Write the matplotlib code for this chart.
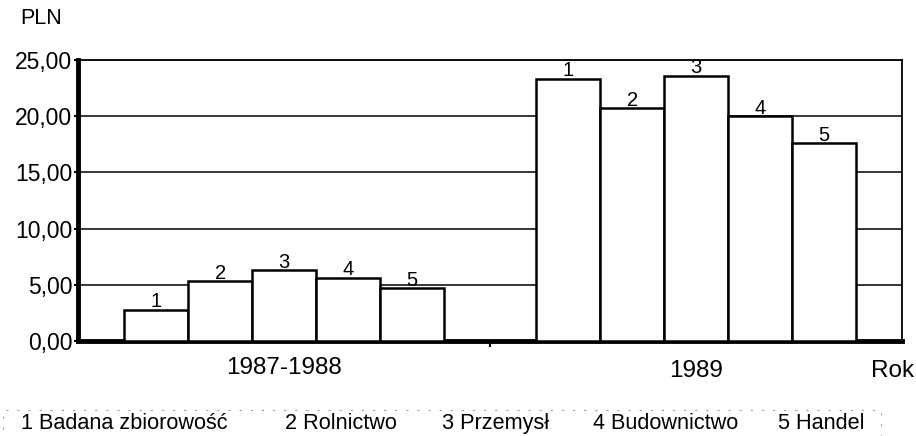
import matplotlib
matplotlib.use("Agg")
import matplotlib.pyplot as plt
from matplotlib.ticker import FuncFormatter, FixedLocator
from matplotlib.patches import Rectangle
import numpy as np

plt.rcParams['font.family'] = ['Liberation Sans', 'DejaVu Sans']

# data
groups = ["1987-1988", "1989"]
sectors = ["Badana zbiorowość", "Rolnictwo", "Przemysł", "Budownictwo", "Handel"]
vals_8788 = [2.8, 5.3, 6.3, 5.6, 4.7]
vals_89 = [23.3, 20.7, 23.6, 20.0, 17.6]
yticks = [0, 5, 10, 15, 20, 25]

fig = plt.figure(figsize=(9.16, 4.36), dpi=100)
ax = fig.add_axes([0.0852, 0.2179, 0.8996, 0.6445])

w = 0.155
x = np.arange(len(groups))
for i, name in enumerate(sectors):
    vals = [vals_8788[i], vals_89[i]]
    pos = x + (i - 2) * w
    bars = ax.bar(pos, vals, width=w, color="white", edgecolor="black",
                  linewidth=1.8, zorder=3)
    for b in bars:
        ax.annotate(str(i + 1), (b.get_x() + b.get_width() / 2, b.get_height()),
                    xytext=(0, -1), textcoords="offset points",
                    ha="center", va="bottom", fontsize=14.5, zorder=4)

ax.set_xlim(-0.5, 1.5)
ax.set_ylim(0, 25)
ax.yaxis.set_major_locator(FixedLocator(yticks))
ax.yaxis.set_major_formatter(FuncFormatter(lambda v, p: f"{v:.2f}".replace('.', ',')))
ax.tick_params(axis='y', labelsize=16.5, length=3, width=1.5, pad=1)
ax.grid(axis='y', color='black', linewidth=1.1, zorder=1)

# category separators on x axis, labels staggered
ax.set_xticks([0.5])
ax.set_xticklabels([])
ax.tick_params(axis='x', length=4, width=1.5, direction='out')
trans = ax.get_xaxis_transform()
ax.text(x[0], -0.058, groups[0], transform=trans, ha='center', va='top', fontsize=17.5)
ax.text(x[1], -0.068, groups[1], transform=trans, ha='center', va='top', fontsize=17.5)
ax.text(1.425, -0.068, "Rok", transform=trans, ha='left', va='top', fontsize=17.5)

for side in ['left', 'bottom']:
    ax.spines[side].set_linewidth(3.5)
for side in ['top', 'right']:
    ax.spines[side].set_linewidth(1.3)
ax.set_axisbelow(True)

fig.text(20 / 916, 1 - 19 / 436, "PLN", ha='left', va='center', fontsize=15.5)

# legend row of numbered sector names
legend_x = [21, 285, 442, 593, 778]
for i, name in enumerate(sectors):
    fig.text(legend_x[i] / 916, 1 - 423 / 436, f"{i + 1} {name}",
             ha='left', va='center', fontsize=15.6)
fig.patches.append(Rectangle((3 / 916, 1 - 440 / 436), 878 / 916, 30 / 436,
                             transform=fig.transFigure, fill=False,
                             edgecolor='#a0a0a0', linewidth=0.8, linestyle=(0, (2, 8))))

fig.savefig("out.png", dpi=100)
